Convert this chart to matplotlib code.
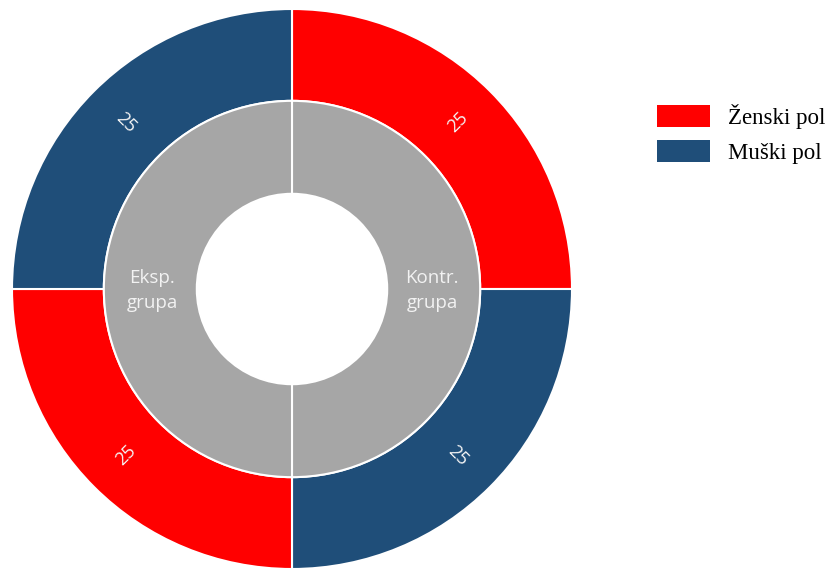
import numpy as np
import matplotlib.pyplot as plt
from matplotlib.patches import Patch

# Broj ispitanika po grupi i polu
grupe = ['Kontr.\ngrupa', 'Eksp.\ngrupa']
zenski = [25, 25]
muski = [25, 25]
pol_labels = ['Ženski pol', 'Muški pol']

crvena = '#FF0000'
plava = '#1F4E79'
siva = '#A6A6A6'

# spoljasnji prsten: za svaku grupu zenski pa muski (u smeru kazaljke)
spolja = [zenski[0], muski[0], zenski[1], muski[1]]
spolja_boje = [crvena, plava, crvena, plava]
unutra = [zenski[0] + muski[0], zenski[1] + muski[1]]

fig = plt.figure(figsize=(8.35, 5.71), dpi=100)
W, H = 835, 571
cx, cy, R = 292, 289, 280
ax = fig.add_axes([(cx - R) / W, (H - cy - R) / H, 2 * R / W, 2 * R / H])

r_sred = 0.672
r_rupa = 0.34

w_out, _ = ax.pie(spolja, radius=1.0, colors=spolja_boje, startangle=90,
                  counterclock=False,
                  wedgeprops=dict(width=1.0 - r_sred, edgecolor='white', linewidth=1.5))
w_in, _ = ax.pie(unutra, radius=r_sred, colors=[siva, siva], startangle=90,
                 counterclock=False,
                 wedgeprops=dict(width=r_sred - r_rupa, edgecolor='white', linewidth=1.5))

font = ['Open Sans', 'DejaVu Sans']

# vrednosti na spoljasnjem prstenu, rotirane radijalno
for w, v in zip(w_out, spolja):
    mid = (w.theta1 + w.theta2) / 2
    rot = mid % 360
    if 90 < rot < 270:
        rot -= 180
    r = 0.84
    ax.text(r * np.cos(np.radians(mid)), r * np.sin(np.radians(mid)), str(v),
            rotation=rot, ha='center', va='center', color='#F5F5F5',
            fontsize=13, family=font, rotation_mode='anchor')

for w, g in zip(w_in, grupe):
    mid = (w.theta1 + w.theta2) / 2
    r = 0.5
    ax.text(r * np.cos(np.radians(mid)), r * np.sin(np.radians(mid)) - 0.005, g,
            ha='center', va='center', color='#F2F2F2', fontsize=13.5,
            family=font, linespacing=1.45)

ax.set_xlim(-1, 1)
ax.set_ylim(-1, 1)
ax.set_aspect('equal')
ax.axis('off')

handles = [Patch(facecolor=crvena, edgecolor='none'),
           Patch(facecolor=plava, edgecolor='none')]
fig.legend(handles, pol_labels, loc='upper left',
           bbox_to_anchor=(657 / W, 1 - 104 / H), frameon=False,
           prop=dict(family='Liberation Serif', size=16.5),
           handlelength=2.3, handleheight=1.1, handletextpad=0.8,
           labelspacing=0.5, borderpad=0, borderaxespad=0)

fig.savefig('out.png', dpi=100, facecolor='white')
